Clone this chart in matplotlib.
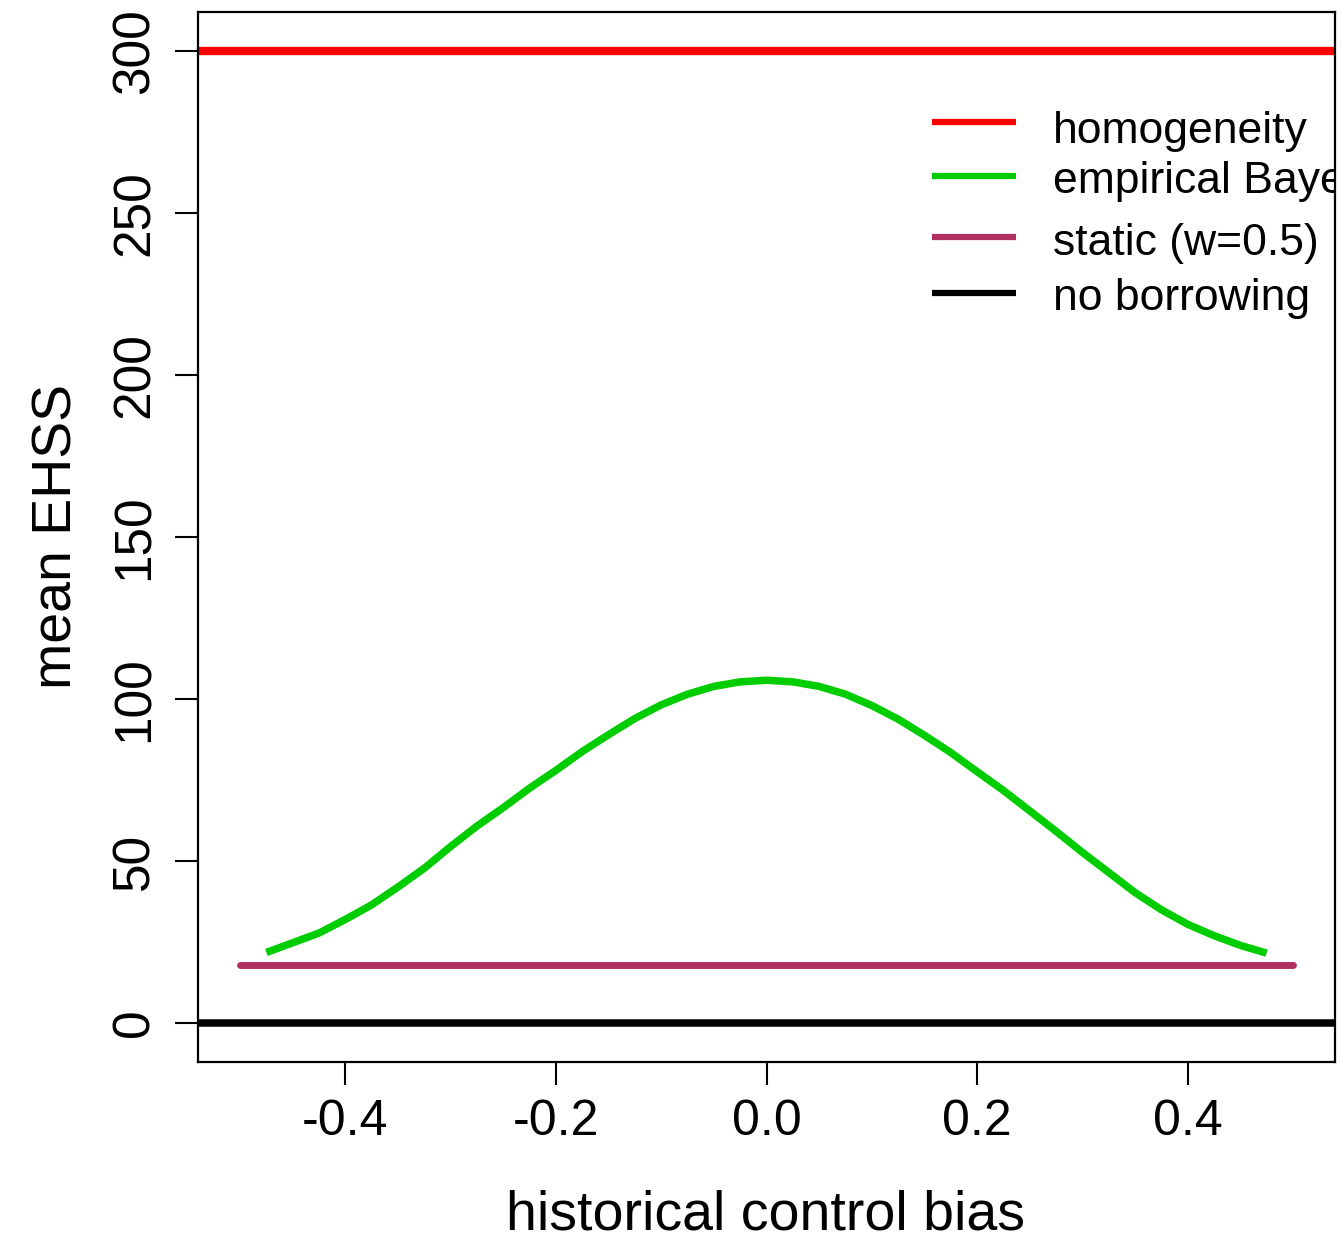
import matplotlib
matplotlib.use("Agg")
import matplotlib.pyplot as plt

# ---- data ----
eb_bias = [-0.475, -0.45, -0.425, -0.40, -0.375, -0.35, -0.325, -0.30, -0.275, -0.25,
           -0.225, -0.20, -0.175, -0.15, -0.125, -0.10, -0.075, -0.05, -0.025, 0.0,
           0.025, 0.05, 0.075, 0.10, 0.125, 0.15, 0.175, 0.20, 0.225, 0.25,
           0.275, 0.30, 0.325, 0.35, 0.375, 0.40, 0.425, 0.45, 0.475]
eb_ehss = [21.8, 24.8, 27.8, 32.0, 36.5, 42.0, 47.8, 54.5, 60.8, 66.5,
           72.5, 78.0, 83.8, 89.0, 94.0, 98.2, 101.5, 103.9, 105.3, 105.8,
           105.3, 103.9, 101.5, 98.0, 93.8, 88.8, 83.5, 77.6, 71.8, 65.5,
           59.2, 52.7, 46.5, 40.3, 35.0, 30.5, 27.0, 24.0, 21.6]
static_bias = [-0.5, 0.5]
static_ehss = [18, 18]
homog_ehss = 300
nob_ehss = 0

legend_labels = ["homogeneity", "empirical Bayes", "static (w=0.5)", "no borrowing"]
xtick_vals = [-0.4, -0.2, 0.0, 0.2, 0.4]
xtick_labels = ["-0.4", "-0.2", "0.0", "0.2", "0.4"]
ytick_vals = [0, 50, 100, 150, 200, 250, 300]
ytick_labels = ["0", "50", "100", "150", "200", "250", "300"]

RED = "#FF0000"
GREEN = "#00CD00"
MAROON = "#B03060"
BLACK = "#000000"
colors = [RED, GREEN, MAROON, BLACK]

plt.rcParams['font.family'] = ['Liberation Sans', 'DejaVu Sans']

W, H = 1343, 1241
fig = plt.figure(figsize=(W / 100, H / 100), dpi=100)
ax = fig.add_axes([198 / W, (H - 1062) / H, (1335 - 198) / W, (1062 - 12) / H])

ax.axhline(homog_ehss, color=RED, lw=6.0, solid_capstyle='butt')
ax.plot(eb_bias, eb_ehss, color=GREEN, lw=5.4, solid_capstyle='butt',
        solid_joinstyle='round')
ax.plot(static_bias, static_ehss, color=MAROON, lw=5.0, solid_capstyle='round')
ax.axhline(nob_ehss, color=BLACK, lw=5.4, solid_capstyle='butt')

ax.set_xlim(-0.54, 0.54)
ax.set_ylim(-12, 312)

ax.set_xticks(xtick_vals)
ax.set_xticklabels(xtick_labels, fontsize=36)
ax.set_yticks(ytick_vals)
ax.set_yticklabels(ytick_labels, fontsize=37, rotation=90, va='center')
ax.tick_params(axis='x', direction='out', length=16.5, width=1.5, pad=10)
ax.tick_params(axis='y', direction='out', length=16.5, width=1.5, pad=11)
for s in ax.spines.values():
    s.set_linewidth(1.6)

# axis labels
fig.text(765 / W, (H - 1230) / H, "historical control bias", fontsize=40,
         ha='center', va='baseline')
fig.text(72 / W, (H - 537) / H, "mean EHSS", fontsize=40, rotation=90,
         rotation_mode='anchor', ha='center', va='baseline')

# legend (clipped at plot region like R)
line_y = [0.8955, 0.8441, 0.7860, 0.7327]
text_y = [0.8750, 0.8273, 0.7686, 0.7162]
lx0, lx1, tx = 0.6456, 0.7194, 0.752
for lab, c, ly, ty in zip(legend_labels, colors, line_y, text_y):
    ax.plot([lx0, lx1], [ly, ly], transform=ax.transAxes, color=c, lw=4.5,
            solid_capstyle='butt', clip_on=True)
    ax.text(tx, ty, lab, transform=ax.transAxes, fontsize=32, ha='left',
            va='baseline', clip_on=True)

fig.savefig("out.png", dpi=100)
